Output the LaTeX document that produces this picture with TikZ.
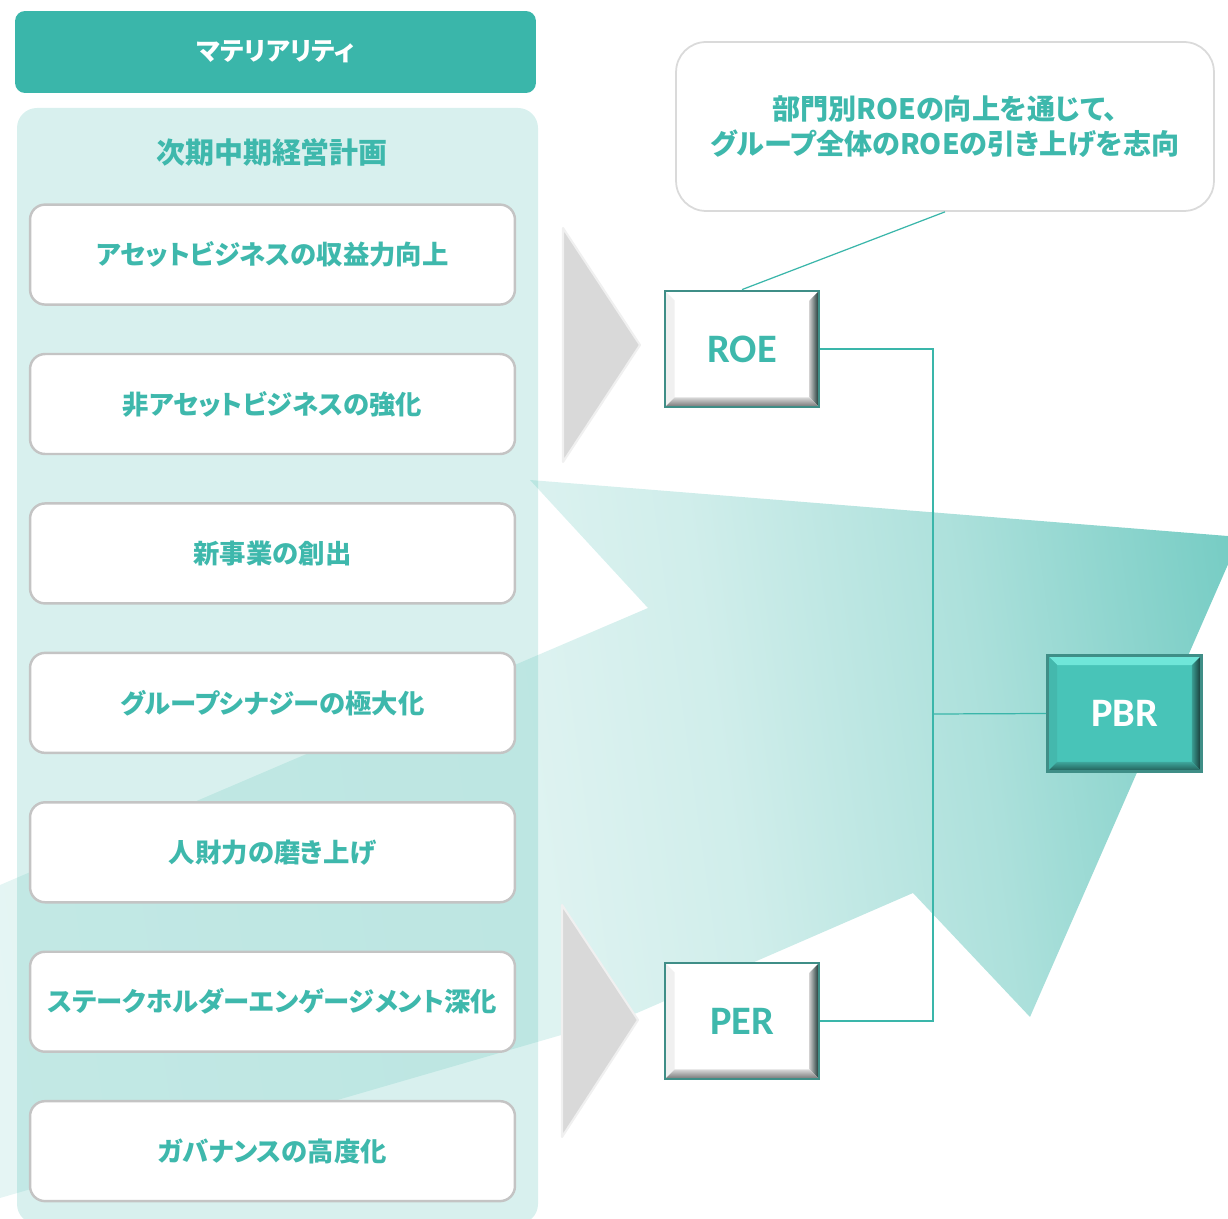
\documentclass[tikz,border=0pt]{standalone}
\usepackage{fontspec}
\setmainfont{Noto Sans CJK JP}[RawFeature=+palt]
\newfontfamily\latinfont{Carlito}
\usepackage{tikz}
\usetikzlibrary{matrix,positioning}
\definecolor{mint}{HTML}{3AB6AA}
\definecolor{minttext}{HTML}{3EB8AC}
\definecolor{pbrfill}{HTML}{48C4B8}
\definecolor{pbrtop}{HTML}{6FE6D9}
\definecolor{edge}{HTML}{3F8E87}
\definecolor{boxline}{HTML}{C4C4C4}
\definecolor{noteline}{HTML}{DADADA}
\definecolor{trigray}{HTML}{D9D9D9}
\definecolor{tririm}{HTML}{F0F0F0}
\colorlet{bandA}{mint!10}
\colorlet{bandB}{mint!17}
\colorlet{bandC}{mint!24}
\colorlet{bandD}{mint!42}
\colorlet{bandE}{mint!68}
\pgfdeclarehorizontalshading{band}{100bp}{color(0bp)=(bandA); color(47bp)=(bandB); color(55bp)=(bandC); color(66bp)=(bandD); color(77bp)=(bandE); color(88bp)=(mint); color(100bp)=(mint)}
\tikzset{
  head/.style={fill=mint, rounded corners=0.2cm, minimum width=10.42cm, minimum height=1.64cm, text=white, font=\bfseries\fontsize{14.5}{17}\selectfont},
  ttl/.style={text=minttext, font=\bfseries\fontsize{16.5}{19}\selectfont},
  item/.style={draw=boxline, line width=1.4pt, fill=white, rounded corners=0.3cm, minimum width=9.7cm, minimum height=2cm, inner sep=2pt, text=minttext, font=\bfseries\fontsize{15}{18}\selectfont},
  tri/.style={fill=trigray, draw=tririm, line width=1.2pt, line join=round},
  note/.style={draw=noteline, line width=1pt, fill=white, rounded corners=0.6cm, minimum width=10.76cm, minimum height=3.38cm, align=center, text=minttext, font=\bfseries\fontsize{16}{19.8}\selectfont},
  link/.style={draw=mint, line width=0.7pt},
  kpi/.style 2 args={fill=#1, draw=edge, line width=1.6pt, minimum width=3.08cm, minimum height=2.32cm,
    font=\latinfont\bfseries\fontsize{23}{26}\selectfont,
    path picture={
      \coordinate (kpisw) at (path picture bounding box.south west);
      \coordinate (kpise) at (path picture bounding box.south east);
      \coordinate (kpinw) at (path picture bounding box.north west);
      \coordinate (kpine) at (path picture bounding box.north east);
      \fill[#2] (kpinw) -- (kpine) -- ([shift={(-5.5pt,-5.5pt)}]kpine) -- ([shift={(5.5pt,-5.5pt)}]kpinw) -- cycle;
      \fill[#1!94!black] (kpinw) -- ([shift={(5.5pt,-5.5pt)}]kpinw) -- ([shift={(5.5pt,5.5pt)}]kpisw) -- (kpisw) -- cycle;
      \shade[left color=#1!80!black, right color=edge!35!black] (kpine) -- (kpise) -- ([shift={(-5.5pt,5.5pt)}]kpise) -- ([shift={(-5.5pt,-5.5pt)}]kpine) -- cycle;
      \shade[top color=#1!85!black, bottom color=#1!45!black] (kpisw) -- (kpise) -- ([shift={(-5.5pt,5.5pt)}]kpise) -- ([shift={(5.5pt,5.5pt)}]kpisw) -- cycle;
    }},
}
\begin{document}
\begin{tikzpicture}[x=0.02cm, y=-0.02cm]
\useasboundingbox (0,0) rectangle (1228,1219);
\clip (0,0) rectangle (1228,1219);

% background band
\shade[shading=band, shading angle=8] (0,885) -- (648,608) -- (530,480) -- (1240,537) -- (1030,1017) -- (913,893) -- (637,1013) -- (0,1198) -- cycle;

% left column
\fill[mint, fill opacity=0.2, rounded corners=0.4cm] (17,108) rectangle (538,1224);
\node[head] (mat) at (275.5,52) {マテリアリティ};
\node[ttl] (plan) at (272,152) {次期中期経営計画};
\matrix[matrix of nodes, nodes={item}, row sep=0.94cm, anchor=north, inner sep=0pt] (m) at (272.5,203) {
アセットビジネスの収益力向上 \\
非アセットビジネスの強化 \\
新事業の創出 \\
グループシナジーの極大化 \\
人財力の磨き上げ \\
ステークホルダーエンゲージメント深化 \\
ガバナンスの高度化 \\
};

% arrows
\filldraw[tri] (563,228) -- (640,345) -- (563,462) -- cycle;
\filldraw[tri] (562,905) -- (638,1020) -- (562,1137) -- cycle;

% right side
\node[note] (goal) at (945,126.5) {部門別ROEの向上を通じて、\\グループ全体のROEの引き上げを志向};
\node[kpi={white}{white}, text=minttext] (roe) at (742,349) {ROE};
\node[kpi={white}{white}, text=minttext] (per) at (742,1021) {PER};
\node[kpi={pbrfill}{pbrtop}, text=white] (pbr) at (1124.5,713.5) {PBR};
\coordinate (join) at (933,714);

\draw[link] (goal.south) -- (roe.north);
\draw[link] (roe.east) -| (join) |- (per.east);
\draw[link] (join) -- (pbr.west);
\end{tikzpicture}
\end{document}
